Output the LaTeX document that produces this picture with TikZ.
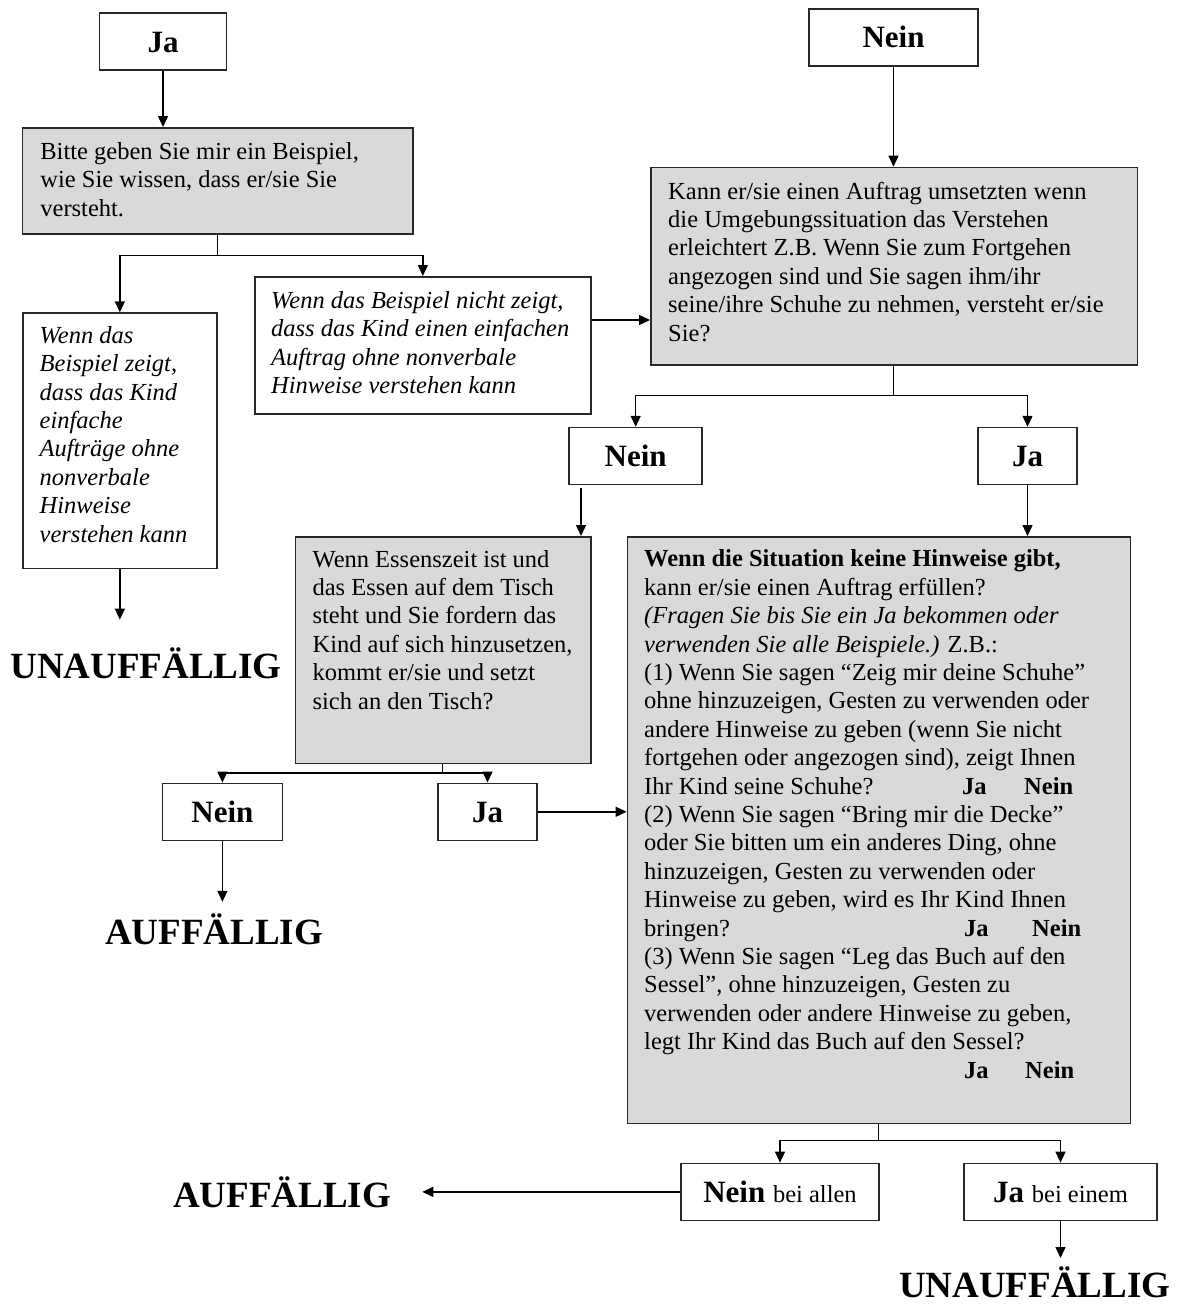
\documentclass[tikz,border=0pt]{standalone}
\usepackage{fontspec}
\setmainfont{Liberation Serif}
\usetikzlibrary{arrows.meta}

\definecolor{boxgray}{RGB}{217,217,217}
\definecolor{edge}{RGB}{40,40,40}

\newcommand\bodysize{\fontsize{24.5}{28.4}\selectfont}
\newcommand\answersize{\fontsize{31}{36}\selectfont\bfseries}
\newcommand\verdictsize{\fontsize{37}{42}\selectfont\bfseries}

\tikzset{
  frame/.style={draw=edge, line width=1.5pt, rectangle, inner sep=0pt, anchor=north west},
  question/.style={frame, fill=boxgray},
  note/.style={frame, fill=white},
  answer/.style={draw=edge, line width=1.5pt, rectangle, inner sep=0pt, font=\answersize,
                 text height=21pt, text depth=0pt, minimum height=57pt},
  bodytext/.style={anchor=north west, inner sep=0pt, align=left, font=\bodysize},
  notetext/.style={bodytext, font=\bodysize\itshape},
  verdict/.style={inner sep=0pt, font=\verdictsize, anchor=base},
  link/.style={draw=black, line width=1.4pt},
  arr/.style={link, -{Triangle[length=11pt,width=10pt]}},
}

\begin{document}
\begin{tikzpicture}[x=1pt,y=-1pt]
\useasboundingbox (0,0) rectangle (1179,1304);

% ---- answer boxes ----
\node[answer, minimum width=127pt] (jaTop)   at (163,41.6)     {Ja};
\node[answer, minimum width=169pt] (neinTop) at (893.5,37.4)   {Nein};
\node[answer, minimum width=133pt] (neinMid) at (635.7,456)    {Nein};
\node[answer, minimum width=99pt]  (jaMid)   at (1027.5,456)   {Ja};
\node[answer, minimum width=120pt] (neinLow) at (222.4,811.8)  {Nein};
\node[answer, minimum width=99pt]  (jaLow)   at (487.5,811.8)  {Ja};
\node[answer, minimum width=197.6pt] (neinAll) at (780,1191.9) {Nein {\bodysize\mdseries bei allen}};
\node[answer, minimum width=192.8pt] (jaOne)   at (1060.5,1191.9) {Ja {\bodysize\mdseries bei einem}};

% ---- question and note boxes ----
\node[question, minimum width=390.4pt, minimum height=106.3pt] (gray1) at (21.8,127) {};
\node[note,     minimum width=193.8pt, minimum height=255.6pt] (leftI) at (22.2,312.3) {};
\node[note,     minimum width=336pt,   minimum height=137.3pt] (midI)  at (254.1,276) {};
\node[question, minimum width=486.8pt, minimum height=197.3pt] (gray2) at (650,166.7) {};
\node[question, minimum width=295.7pt, minimum height=226.5pt] (gray3) at (294.6,536) {};
\node[question, minimum width=503.3pt, minimum height=586.7pt] (gray4) at (626.6,536) {};

% ---- box texts ----
\node[bodytext] (gray1t) at (40.2,139.4) {\strut Bitte geben Sie mir ein Beispiel,\\
wie Sie wissen, dass er/sie Sie\\
versteht.};

\node[notetext] (leftIt) at (39.5,323.3) {\strut Wenn das\\
Beispiel zeigt,\\
dass das Kind\\
einfache\\
Aufträge ohne\\
nonverbale\\
Hinweise\\
verstehen kann};

\node[notetext] (midIt) at (271,288.5) {\strut Wenn das Beispiel nicht zeigt,\\
dass das Kind einen einfachen\\
Auftrag ohne nonverbale\\
Hinweise verstehen kann};

\node[bodytext] (gray2t) at (668,179.1) {\strut Kann er/sie einen Auftrag umsetzten wenn\\
die Umgebungssituation das Verstehen\\
erleichtert Z.B. Wenn Sie zum Fortgehen\\
angezogen sind und Sie sagen ihm/ihr\\
seine/ihre Schuhe zu nehmen, versteht er/sie\\
Sie?};

\node[bodytext] (gray3t) at (312.4,547.1) {\strut Wenn Essenszeit ist und\\
das Essen auf dem Tisch\\
steht und Sie fordern das\\
Kind auf sich hinzusetzen,\\
kommt er/sie und setzt\\
sich an den Tisch?};

\node[bodytext] (gray4t) at (644,546.8) {\strut\textbf{Wenn die Situation keine Hinweise gibt,}\\
kann er/sie einen Auftrag erfüllen?\\
\textit{(Fragen Sie bis Sie ein Ja bekommen oder}\\
\textit{verwenden Sie alle Beispiele.)} Z.B.:\\
(1) Wenn Sie sagen “Zeig mir deine Schuhe”\\
ohne hinzuzeigen, Gesten zu verwenden oder\\
andere Hinweise zu geben (wenn Sie nicht\\
fortgehen oder angezogen sind), zeigt Ihnen\\
\makebox[318pt][l]{Ihr Kind seine Schuhe?}\makebox[62pt][l]{\textbf{Ja}}\textbf{Nein}\\
(2) Wenn Sie sagen “Bring mir die Decke”\\
oder Sie bitten um ein anderes Ding, ohne\\
hinzuzeigen, Gesten zu verwenden oder\\
Hinweise zu geben, wird es Ihr Kind Ihnen\\
\makebox[320pt][l]{bringen?}\makebox[68pt][l]{\textbf{Ja}}\textbf{Nein}\\
(3) Wenn Sie sagen “Leg das Buch auf den\\
Sessel”, ohne hinzuzeigen, Gesten zu\\
verwenden oder andere Hinweise zu geben,\\
legt Ihr Kind das Buch auf den Sessel?\\
\hspace*{320pt}\makebox[61pt][l]{\textbf{Ja}}\textbf{Nein}};

% ---- verdicts ----
\node[verdict] (verdictA) at (146,678.6)    {UNAUFFÄLLIG};
\node[verdict] (verdictB) at (214,944.6)    {AUFFÄLLIG};
\node[verdict] (verdictC) at (282,1207)     {AUFFÄLLIG};
\node[verdict] (verdictD) at (1034.7,1297.5) {UNAUFFÄLLIG};

% ---- connectors ----
\coordinate (split1) at (217.4,255.3);
\coordinate (split2) at (893.5,395.7);
\coordinate (split3) at (442.5,773);
\coordinate (split4) at (878.2,1140.7);
\coordinate (side1)  at (590.1,320);
\coordinate (drop1)  at (581,487.5);
\coordinate (tip0)   at (119.1,619.6);
\coordinate (tip1)   at (222.4,901.8);
\coordinate (tip2)   at (422.3,1192);
\coordinate (tip3)   at (1060.5,1258);

\draw[arr] (jaTop.south) -- (jaTop.south |- gray1.north);
\draw[link] (gray1.south -| split1) -- (split1);
\draw[arr] (split1) -| (leftI.north);
\draw[arr] (split1) -| (midI.north);
\draw[arr] (midI.east |- side1) -- (gray2.west |- side1);

\draw[arr] (neinTop.south) -- (neinTop.south |- gray2.north);
\draw[link] (gray2.south -| split2) -- (split2);
\draw[arr] (split2) -| (neinMid.north);
\draw[arr] (split2) -| (jaMid.north);

\draw[arr] (drop1) -- (drop1 |- gray3.north);
\draw[arr] (jaMid.south) -- (jaMid.south |- gray4.north);

\draw[link] (gray3.south -| split3) -- (split3);
\draw[arr] (split3) -| (neinLow.north);
\draw[arr] (split3) -| (jaLow.north);
\draw[arr] (jaLow.east) -- (jaLow.east -| gray4.west);

\draw[arr] (leftI.south) -- (leftI.south |- tip0);
\draw[arr] (neinLow.south) -- (neinLow.south |- tip1);

\draw[link] (gray4.south -| split4) -- (split4);
\draw[arr] (split4) -| (neinAll.north);
\draw[arr] (split4) -| (jaOne.north);
\draw[arr] (neinAll.west) -- (neinAll.west -| tip2);
\draw[arr] (jaOne.south) -- (jaOne.south |- tip3);
\end{tikzpicture}
\end{document}
